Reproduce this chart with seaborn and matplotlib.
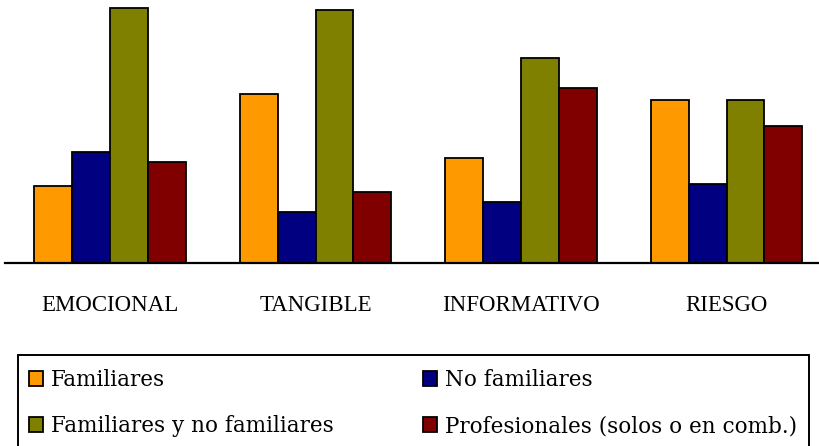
import matplotlib
matplotlib.use("Agg")
import matplotlib.pyplot as plt
from matplotlib.patches import Rectangle
import pandas as pd
import seaborn as sns

categories = ["EMOCIONAL", "TANGIBLE", "INFORMATIVO", "RIESGO"]
series = ["Familiares", "No familiares", "Familiares y no familiares",
          "Profesionales (solos o en comb.)"]
familiares = [77, 169, 105, 163]
no_familiares = [111, 51, 61, 79]
mixtos = [255, 253, 205, 163]
profesionales = [101, 71, 175, 137]
colors = ["#FF9900", "#000080", "#808000", "#800000"]

rows = []
for name, vals in zip(series, [familiares, no_familiares, mixtos, profesionales]):
    for cat, v in zip(categories, vals):
        rows.append({"categoria": cat, "grupo": name, "valor": v})
df = pd.DataFrame(rows)

sns.set_theme(style="white")
plt.rcParams["font.family"] = ["Liberation Serif", "DejaVu Serif"]

W, H = 819, 446
fig = plt.figure(figsize=(W / 100, H / 100), dpi=100)
ax = fig.add_axes([5 / W, (H - 263) / H, 814 / W, 263 / H])

sns.barplot(data=df, x="categoria", y="valor", hue="grupo", order=categories,
            hue_order=series, palette=colors, width=0.735, gap=0,
            edgecolor="black", linewidth=1.3, saturation=1, ax=ax, legend=True)

ax.set_ylim(0, 263)
ax.set_xlim(-0.511, 3.45)
for s in ["top", "left", "right"]:
    ax.spines[s].set_visible(False)
ax.spines["bottom"].set_color("black")
ax.spines["bottom"].set_linewidth(1.6)
ax.set_yticks([])
ax.set_xlabel("")
ax.set_ylabel("")
ax.tick_params(axis="x", length=0, pad=23, labelsize=16.5, labelcolor="black")

handles, labels = ax.get_legend_handles_labels()
ax.get_legend().remove()

# legend frame, open at the bottom edge of the figure
fig.patches.append(Rectangle((18 / W, -0.05), 791 / W, (H - 355) / H + 0.05,
                             transform=fig.transFigure, fill=False,
                             edgecolor="black", linewidth=1.4))

leg_kw = dict(loc="upper left", frameon=False, labelcolor="black",
              prop={"family": "DejaVu Serif", "size": 15.5},
              handlelength=0.65, handleheight=0.65, handletextpad=0.35,
              labelspacing=1.12, borderaxespad=0, borderpad=0)
fig.legend([handles[0], handles[2]], [labels[0], labels[2]],
           bbox_to_anchor=(29 / W, (H - 369) / H), **leg_kw)
fig.legend([handles[1], handles[3]], [labels[1], labels[3]],
           bbox_to_anchor=(423 / W, (H - 369) / H), **leg_kw)

fig.savefig("out.png", dpi=100)
